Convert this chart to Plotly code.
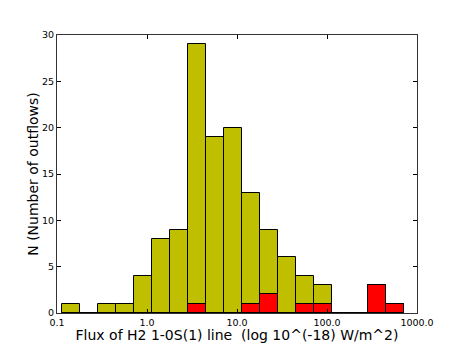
import plotly.graph_objects as go

# Histogram bins (log10 of flux, bin centres) and counts
log_flux_bin_centres = [-0.85, -0.65, -0.45, -0.25, -0.05, 0.15, 0.35, 0.55, 0.75, 0.95,
                        1.15, 1.35, 1.55, 1.75, 1.95, 2.15, 2.35, 2.55, 2.75]
all_counts = [1, 0, 1, 1, 4, 8, 9, 29, 19, 20, 13, 9, 6, 4, 3, 0, 0, 3, 1]
red_counts = [0, 0, 0, 0, 0, 0, 0, 1, 0, 0, 1, 2, 0, 1, 1, 0, 0, 3, 1]
bin_width_log = 0.2

x_tick_vals = [-1, 0, 1, 2, 3]
x_tick_text = ["0.1", "1.0", "10.0", "100.0", "1000.0"]
y_tick_vals = [0, 5, 10, 15, 20, 25, 30]

fig = go.Figure()
fig.add_trace(go.Bar(
    x=log_flux_bin_centres, y=all_counts, width=bin_width_log,
    marker=dict(color="#bfbf00", line=dict(color="black", width=1)),
    showlegend=False,
))
fig.add_trace(go.Bar(
    x=log_flux_bin_centres, y=red_counts, width=bin_width_log,
    marker=dict(color="#ff0000", line=dict(color="black", width=1)),
    showlegend=False,
))

axis_font = dict(family="DejaVu Sans", size=9.5, color="black")
fig.update_layout(
    width=463, height=348,
    margin=dict(l=57, r=46, t=35, b=35, autoexpand=False),
    barmode="overlay",
    bargap=0,
    paper_bgcolor="white",
    plot_bgcolor="white",
    font=dict(family="DejaVu Sans", color="black"),
    xaxis=dict(
        range=[-1, 3], tickvals=x_tick_vals, ticktext=x_tick_text,
        ticks="inside", ticklen=4, tickcolor="black", mirror="ticks",
        showline=True, linecolor="#333", linewidth=1.2, showgrid=False, zeroline=False,
        tickfont=axis_font, automargin=False,
        title=dict(text="Flux of H2 1-0S(1) line\u00a0 (log 10^(-18) W/m^2)",
                   font=dict(family="DejaVu Sans", size=14), standoff=0),
    ),
    yaxis=dict(
        range=[0, 30], tickvals=y_tick_vals,
        ticks="inside", ticklen=4, tickcolor="black", mirror="ticks",
        showline=True, linecolor="#333", linewidth=1.2, showgrid=False, zeroline=False,
        tickfont=axis_font, automargin=False,
        title=dict(text="N (Number of outflows)",
                   font=dict(family="DejaVu Sans", size=14), standoff=0),
    ),
)

fig.write_html("out.html", config={"displayModeBar": False},
               post_script="document.body.style.margin='0';")
